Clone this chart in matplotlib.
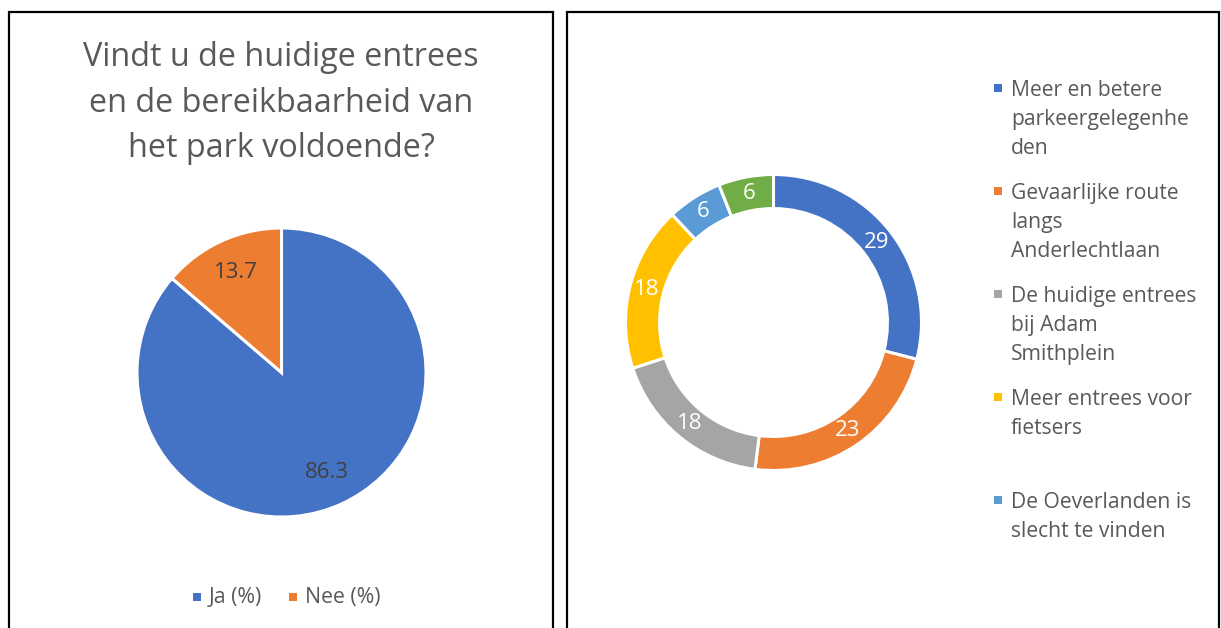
import matplotlib
matplotlib.use("Agg")
import matplotlib.pyplot as plt
from matplotlib.patches import Rectangle

plt.rcParams['font.family'] = ['Open Sans', 'DejaVu Sans']

# Linker grafiek: taart
titel_links = ["Vindt u de huidige entrees",
               "en de bereikbaarheid van",
               "het park voldoende?"]
pie_labels = ["Ja (%)", "Nee (%)"]
pie_values = [86.3, 13.7]
pie_colors = ["#4472C4", "#ED7D31"]

# Rechter grafiek: donut
donut_labels = ["Meer en betere\nparkeergelegenhe\nden",
                "Gevaarlijke route\nlangs\nAnderlechtlaan",
                "De huidige entrees\nbij Adam\nSmithplein",
                "Meer entrees voor\nfietsers",
                "De Oeverlanden is\nslecht te vinden",
                ""]
donut_values = [29, 23, 18, 18, 6, 6]
donut_colors = ["#4472C4", "#ED7D31", "#A5A5A5", "#FFC000", "#5B9BD5", "#70AD47"]

W, H = 1221, 628
fig = plt.figure(figsize=(W / 100, H / 100), dpi=100)


def fx(px):
    return px / W


def fy(py):
    return 1 - py / H


tekst_kleur = "#595959"

# panelen met zwarte rand (onderkant valt buiten beeld)
for x0, x1 in [(9, 553), (567, 1219)]:
    fig.patches.append(Rectangle((fx(x0), fy(660)), fx(x1 - x0), (660 - 12) / H,
                                 transform=fig.transFigure, fill=False,
                                 edgecolor="black", linewidth=1.6))

# titel links
for i, regel in enumerate(titel_links):
    fig.text(fx(281), fy(66 + 45.5 * i), regel, ha="center", va="baseline",
             fontsize=23.3, color=tekst_kleur)

# taartdiagram
ax1 = fig.add_axes([fx(137), fy(517), fx(289), 289 / H])
wedges, _, autotexts = ax1.pie(pie_values, colors=pie_colors, startangle=90,
                               counterclock=False, autopct=lambda p: f"{p:.1f}",
                               pctdistance=0.76,
                               wedgeprops=dict(edgecolor="white", linewidth=2.2),
                               textprops=dict(fontsize=16, color="#404040"))
ax1.set_xlim(-1, 1)
ax1.set_ylim(-1, 1)
ax1.set_aspect("equal")
ax1.axis("off")

# legenda links
for i, (lab, kleur) in enumerate(zip(pie_labels, pie_colors)):
    x0 = [193, 289][i]
    fig.patches.append(Rectangle((fx(x0), fy(601)), fx(8), 8 / H,
                                 transform=fig.transFigure, facecolor=kleur,
                                 edgecolor="none"))
    fig.text(fx(x0 + 16), fy(603), lab, ha="left", va="baseline",
             fontsize=15.3, color=tekst_kleur)

# donut
ax2 = fig.add_axes([fx(625.5), fy(470.5), fx(296), 296 / H])
wedges2, _, autotexts2 = ax2.pie(donut_values, colors=donut_colors, startangle=90,
                                 counterclock=False, autopct=lambda p: f"{p:.0f}",
                                 pctdistance=0.885,
                                 wedgeprops=dict(width=0.23, edgecolor="white", linewidth=2.2),
                                 textprops=dict(fontsize=16, color="white"))
ax2.set_xlim(-1, 1)
ax2.set_ylim(-1, 1)
ax2.set_aspect("equal")
ax2.axis("off")

# legenda rechts (alleen de eerste vijf passen in het kader)
for i in range(5):
    y0 = 96 + 103 * i
    fig.patches.append(Rectangle((fx(994), fy(y0 - 4)), fx(8), 8 / H,
                                 transform=fig.transFigure,
                                 facecolor=donut_colors[i], edgecolor="none"))
    for j, regel in enumerate(donut_labels[i].split("\n")):
        fig.text(fx(1011), fy(y0 + 29 * j), regel, ha="left", va="baseline",
                 fontsize=15.2, color=tekst_kleur)

fig.savefig("out.png", dpi=100, facecolor="white")
